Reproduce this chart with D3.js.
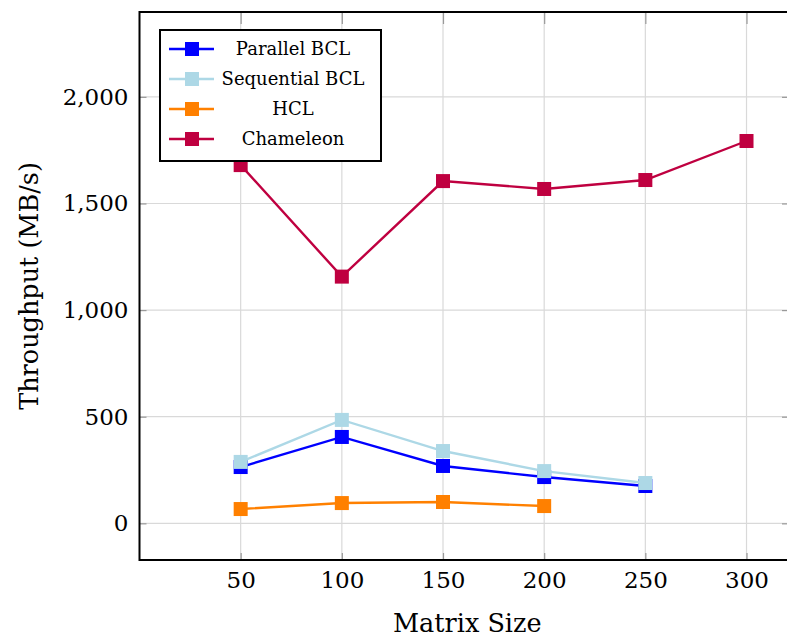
<!DOCTYPE html>
<html>
<head>
<meta charset="utf-8">
<script src="https://cdn.jsdelivr.net/npm/d3@7"></script>
<style>
body { margin: 0; background: #fff; }
</style>
</head>
<body>
<div id="chart"></div>
<script>
// ##### data #####
var matrixSizes = [50, 100, 150, 200, 250, 300];
var parallelBCL = [264, 405, 269, 217, 175];
var sequentialBCL = [288, 485, 339, 245, 189];
var hcl = [67, 95, 100, 81];
var chameleon = [1680, 1157, 1605, 1568, 1610, 1793];
var yTicks = [0, 500, 1000, 1500, 2000];

var seriesNames = ["Parallel BCL", "Sequential BCL", "HCL", "Chameleon"];
var seriesValues = [parallelBCL, sequentialBCL, hcl, chameleon];
var seriesColors = ["#0000ff", "#add8e6", "#ff8000", "#bf0040"];

var FONT = "DejaVu Serif";
var W = 787, H = 641;
var margin = {top: 12, right: -2, bottom: 81, left: 139.5};
var width = W - margin.left - margin.right;
var height = H - margin.top - margin.bottom;

var svg = d3.select("#chart").append("svg")
	.attr("width", W)
	.attr("height", H);

var g = svg.append("g").attr("transform", "translate(" + margin.left + "," + margin.top + ")");

var x = d3.scaleLinear().domain([0, 321]).range([0, width]);
var y = d3.scaleLinear().domain([-172, 2398]).range([height, 0]);

// grid
g.append("g").selectAll("line").data(matrixSizes).enter().append("line")
	.attr("x1", function(d) { return x(d); }).attr("x2", function(d) { return x(d); })
	.attr("y1", 0).attr("y2", height)
	.attr("stroke", "#d9d9d9").attr("stroke-width", 1.2);
g.append("g").selectAll("line").data(yTicks).enter().append("line")
	.attr("y1", function(d) { return y(d); }).attr("y2", function(d) { return y(d); })
	.attr("x1", 0).attr("x2", width)
	.attr("stroke", "#d9d9d9").attr("stroke-width", 1.2);

// tick marks (inside, gray)
var fmt = d3.format(",");
var xAxis = g.append("g").attr("class", "axis axis--x")
	.attr("transform", "translate(0," + height + ")")
	.call(d3.axisBottom(x).tickValues(matrixSizes).tickSizeInner(-7).tickSizeOuter(0).tickPadding(12));
var xTop = g.append("g").call(d3.axisTop(x).tickValues(matrixSizes).tickSizeInner(-12).tickSizeOuter(0).tickFormat(""));
var yAxis = g.append("g").attr("class", "axis axis--y")
	.call(d3.axisLeft(y).tickValues(yTicks).tickFormat(fmt).tickSizeInner(-7).tickSizeOuter(0).tickPadding(11));
var yRight = g.append("g").attr("transform", "translate(" + width + ",0)")
	.call(d3.axisRight(y).tickValues(yTicks).tickSizeInner(-7).tickSizeOuter(0).tickFormat(""));

[xAxis, xTop, yAxis, yRight].forEach(function(a) {
	a.attr("font-family", FONT);
	a.select(".domain").remove();
	a.selectAll(".tick line").attr("stroke", "#999").attr("stroke-width", 1.2);
	a.selectAll(".tick text").attr("font-size", 23).attr("fill", "#000");
});
xAxis.selectAll(".tick text").attr("dy", "0.71em");

// frame
g.append("path")
	.attr("d", "M" + (width + 5) + ",0H0V" + height + "H" + (width + 5))
	.attr("fill", "none").attr("stroke", "#000").attr("stroke-width", 2);

// lines
var line = d3.line()
	.x(function(d, i) { return x(matrixSizes[i]); })
	.y(function(d) { return y(d); });

var series = g.selectAll(".series")
	.data(seriesValues)
	.enter().append("g")
	.attr("class", "series");

series.append("path")
	.attr("d", function(d) { return line(d); })
	.attr("fill", "none")
	.attr("stroke-width", 2.4)
	.attr("stroke", function(d, i) { return seriesColors[i]; });

series.each(function(d, i) {
	d3.select(this).selectAll("rect").data(d).enter().append("rect")
		.attr("x", function(v, j) { return x(matrixSizes[j]) - 7; })
		.attr("y", function(v) { return y(v) - 7; })
		.attr("width", 14).attr("height", 14)
		.attr("fill", seriesColors[i]);
});

// axis labels
svg.append("text")
	.attr("x", margin.left + x(162))
	.attr("y", 632)
	.attr("text-anchor", "middle")
	.attr("font-family", FONT)
	.attr("font-size", 25.5)
	.text("Matrix Size");

svg.append("text")
	.attr("transform", "translate(38," + (margin.top + y(1113)) + ") rotate(-90)")
	.attr("text-anchor", "middle")
	.attr("font-family", FONT)
	.attr("font-size", 25.5)
	.text("Throughput (MB/s)");

// legend
var lg = svg.append("g").attr("transform", "translate(160,30)");
lg.append("rect")
	.attr("width", 221).attr("height", 131)
	.attr("fill", "#fff").attr("stroke", "#000").attr("stroke-width", 2);

var item = lg.selectAll(".item").data(seriesNames).enter().append("g")
	.attr("transform", function(d, i) { return "translate(0," + (19 + i * 30) + ")"; });
item.append("line")
	.attr("x1", 9).attr("x2", 54).attr("y1", 0).attr("y2", 0)
	.attr("stroke-width", 2.4)
	.attr("stroke", function(d, i) { return seriesColors[i]; });
item.append("rect")
	.attr("x", 25).attr("y", -7).attr("width", 14).attr("height", 14)
	.attr("fill", function(d, i) { return seriesColors[i]; });
item.append("text")
	.attr("x", 133).attr("y", 0).attr("dy", "0.35em")
	.attr("text-anchor", "middle")
	.attr("font-family", FONT)
	.attr("font-size", 18)
	.text(function(d) { return d; });
</script>
</body>
</html>
